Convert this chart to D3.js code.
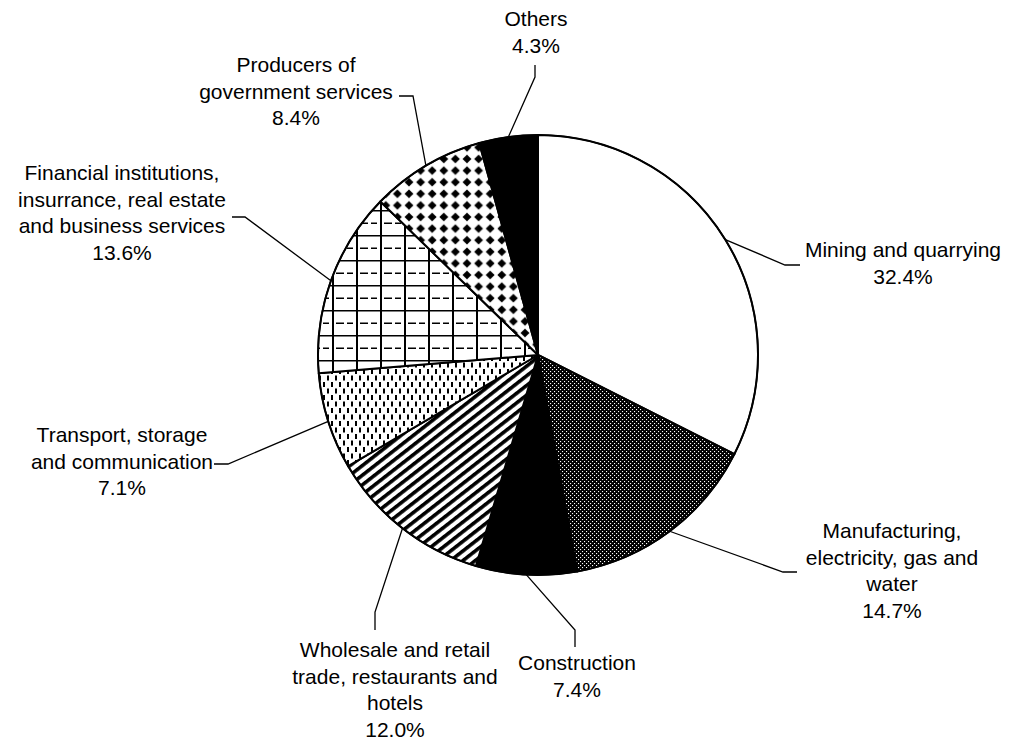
<!DOCTYPE html>
<html>
<head>
<meta charset="utf-8">
<script src="https://cdn.jsdelivr.net/npm/d3@7/dist/d3.min.js"></script>
<style>
  html, body { margin: 0; padding: 0; background: #fff; }
  svg { display: block; }
  text { font-family: "Liberation Sans", Arial, Helvetica, sans-serif; font-size: 21px; fill: #000; }
</style>
</head>
<body>
<svg id="chart" width="1010" height="746"></svg>
<script>
// Sectors, clockwise from 12 o'clock
const categories = [
  "Mining and quarrying",
  "Manufacturing, electricity, gas and water",
  "Construction",
  "Wholesale and retail trade, restaurants and hotels",
  "Transport, storage and communication",
  "Financial institutions, insurrance, real estate and business services",
  "Producers of government services",
  "Others"
];
const shares = [32.4, 14.7, 7.4, 12.0, 7.1, 13.6, 8.4, 4.3];

// Text lines of each label (the share line is appended from `shares`)
const labelLines = [
  ["Mining and quarrying"],
  ["Manufacturing,", "electricity, gas and", "water"],
  ["Construction"],
  ["Wholesale and retail", "trade, restaurants and", "hotels"],
  ["Transport, storage", "and communication"],
  ["Financial institutions,", "insurrance, real estate", "and business services"],
  ["Producers of", "government services"],
  ["Others"]
];

// Fill pattern id per sector
const fills = ["none", "fine", "black", "stripes", "dashes", "grid", "diamonds", "black"];

// Label placement: text centre / first baseline, leader elbow and leader end
const labelLayout = [
  { x: 903, y: 257, elbow: [785, 265], end: [800, 265] },
  { x: 892, y: 538, elbow: [783, 572], end: [797, 572] },
  { x: 577, y: 670, elbow: [575, 630], end: [575, 647] },
  { x: 395, y: 657, elbow: [375, 612], end: [375, 630] },
  { x: 122, y: 442, elbow: [228, 464], end: [214, 464] },
  { x: 122, y: 180, elbow: [245, 217], end: [232, 217] },
  { x: 296, y: 72,  elbow: [413, 96],  end: [399, 96] },
  { x: 536, y: 26,  elbow: [535, 77],  end: [535, 65] }
];

const cx = 538, cy = 355, radius = 220, lineGap = 26.5;

const svg = d3.select("#chart");
const defs = svg.append("defs");

// Fine dot screen
const pFine = defs.append("pattern").attr("id", "fine")
  .attr("patternUnits", "userSpaceOnUse").attr("width", 4).attr("height", 4);
pFine.append("rect").attr("width", 4).attr("height", 4).attr("fill", "#000");
pFine.append("rect").attr("x", 0).attr("y", 0).attr("width", 1.1).attr("height", 1.1).attr("fill", "#fff");
pFine.append("rect").attr("x", 2).attr("y", 2).attr("width", 1.1).attr("height", 1.1).attr("fill", "#fff");

// Diagonal stripes
const pStr = defs.append("pattern").attr("id", "stripes")
  .attr("patternUnits", "userSpaceOnUse").attr("width", 7.6).attr("height", 10)
  .attr("patternTransform", "rotate(52)");
pStr.append("rect").attr("width", 7.6).attr("height", 10).attr("fill", "#fff");
pStr.append("rect").attr("x", 0).attr("width", 3.6).attr("height", 10).attr("fill", "#000");

// Staggered short vertical dashes
const pDash = defs.append("pattern").attr("id", "dashes")
  .attr("patternUnits", "userSpaceOnUse").attr("width", 8).attr("height", 13);
pDash.append("rect").attr("width", 8).attr("height", 13).attr("fill", "#fff");
pDash.append("rect").attr("x", 1).attr("y", 1).attr("width", 2).attr("height", 5).attr("fill", "#000");
pDash.append("rect").attr("x", 5).attr("y", 7.5).attr("width", 2).attr("height", 5).attr("fill", "#000");

// Grid of solid verticals and solid / dashed horizontals
const pGrid = defs.append("pattern").attr("id", "grid")
  .attr("patternUnits", "userSpaceOnUse").attr("width", 24).attr("height", 25)
  .attr("x", cx).attr("y", cy);
pGrid.append("rect").attr("width", 24).attr("height", 25).attr("fill", "#fff");
pGrid.append("rect").attr("x", 0).attr("y", 0).attr("width", 2).attr("height", 25).attr("fill", "#000");
pGrid.append("rect").attr("x", 0).attr("y", 0).attr("width", 24).attr("height", 1.5).attr("fill", "#000");
pGrid.append("rect").attr("x", 4).attr("y", 12.5).attr("width", 8).attr("height", 1.5).attr("fill", "#000");
pGrid.append("rect").attr("x", 15).attr("y", 12.5).attr("width", 6).attr("height", 1.5).attr("fill", "#000");

// Diamonds on white
const pDia = defs.append("pattern").attr("id", "diamonds")
  .attr("patternUnits", "userSpaceOnUse").attr("width", 11.6).attr("height", 11.6)
  .attr("x", cx).attr("y", cy);
pDia.append("rect").attr("width", 11.6).attr("height", 11.6).attr("fill", "#fff");
pDia.append("path").attr("d", "M5.8,1.4 L10.2,5.8 L5.8,10.2 L1.4,5.8 Z").attr("fill", "#000");

const fillOf = f => f === "none" ? "#fff" : f === "black" ? "#000" : `url(#${f})`;

const pie = d3.pie().sort(null).value(d => d).startAngle(0).endAngle(2 * Math.PI);
const arcs = pie(shares);
const arc = d3.arc().innerRadius(0).outerRadius(radius);

const g = svg.append("g").attr("transform", `translate(${cx},${cy})`);

g.selectAll("path.slice")
  .data(arcs)
  .join("path")
  .attr("class", "slice")
  .attr("d", arc)
  .attr("fill", (d, i) => fillOf(fills[i]))
  .attr("stroke", "#000")
  .attr("stroke-width", 2)
  .attr("stroke-linejoin", "round");

// Outer rim
g.append("circle").attr("r", radius).attr("fill", "none").attr("stroke", "#000").attr("stroke-width", 1.6);

// Leader lines from the rim at each sector's mid-angle
const leaders = svg.append("g");
arcs.forEach((a, i) => {
  const mid = (a.startAngle + a.endAngle) / 2;
  const p0 = [cx + radius * Math.sin(mid), cy - radius * Math.cos(mid)];
  const L = labelLayout[i];
  leaders.append("path")
    .attr("d", d3.line()([p0, L.elbow, L.end]))
    .attr("fill", "none")
    .attr("stroke", "#000")
    .attr("stroke-width", 1.3);
});

// Labels
const labels = svg.append("g");
labelLines.forEach((lines, i) => {
  const L = labelLayout[i];
  const all = lines.concat([shares[i].toFixed(1) + "%"]);
  const t = labels.append("text").attr("text-anchor", "middle");
  all.forEach((s, k) => {
    t.append("tspan").attr("x", L.x).attr("y", L.y + k * lineGap).text(s);
  });
});
</script>
</body>
</html>
